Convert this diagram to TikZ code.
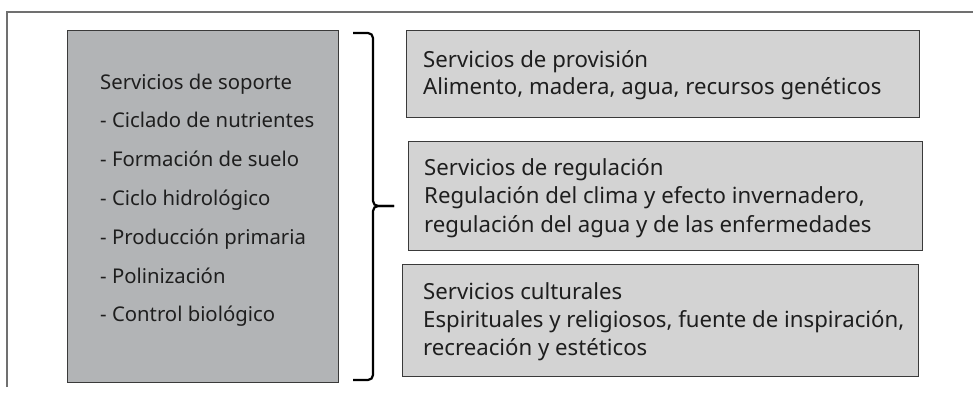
\documentclass[tikz,border=0pt]{standalone}
\usepackage{fontspec}
\setmainfont{Noto Sans}
\usetikzlibrary{positioning,calc}

\definecolor{marcogris}{HTML}{707070}
\definecolor{bordecaja}{HTML}{3A3A3A}
\definecolor{fondosoporte}{HTML}{B2B4B6}
\definecolor{fondoservicio}{HTML}{D3D3D3}
\definecolor{tinta}{HTML}{1E1E1E}

\newcommand{\letracaja}{\fontsize{22.2}{28}\selectfont}
\newcommand{\letrasoporte}{\fontsize{20.3}{24}\selectfont}

\begin{document}
\begin{tikzpicture}[x=1pt,y=-1pt,
		soporte/.style={draw=bordecaja, fill=fondosoporte, line width=1.2pt,
			anchor=north west, inner sep=0pt},
		servicio/.style={draw=bordecaja, fill=fondoservicio, line width=1.2pt,
			anchor=north west, inner sep=0pt},
		linea/.style={anchor=base west, inner sep=0pt, text=tinta, font=\letracaja},
		item/.style={linea, font=\letrasoporte},
		llave/.style={line width=2.2pt, rounded corners=5pt},
		marco/.style={draw=marcogris, line width=1.3pt}]
		\useasboundingbox (0,0) rectangle (974,396);
		% marco exterior
		\draw[marco] (7,387) |- (973,12);
		% servicios de soporte
		\node[soporte, minimum width=271pt, minimum height=352pt] (sop) at (67,30) {};
		\node[item] (sop0) at ($(sop.north west)+(33,59)$) {Servicios de soporte};
		\foreach \t [count=\i] in {Ciclado de nutrientes, Formación de suelo,
			Ciclo hidrológico, Producción primaria, Polinización, Control biológico}
			\node[item] (sop\i) at ($(sop0.base west)+(0,38.8*\i)$) {- \t};
		% llave
		\coordinate (brtop) at (353,33);
		\coordinate (brbot) at (353,380);
		\coordinate (brmid) at (373,206);
		\coordinate (brtip) at (394,206);
		\draw[llave] (brtop) -| (brmid) -- (brtip);
		\draw[llave] (brbot) -| (brmid) -- (brtip);
		% servicios de provision
		\node[servicio, minimum width=513pt, minimum height=87pt] (prov) at (406,30) {};
		\node[linea] (prov0) at ($(prov.north west)+(17,37)$) {Servicios de provisión};
		\node[linea] (prov1) at ($(prov0.base west)+(0,27)$) {Alimento, madera, agua, recursos genéticos};
		% servicios de regulacion
		\node[servicio, minimum width=514pt, minimum height=109pt] (reg) at (408,141) {};
		\node[linea] (reg0) at ($(reg.north west)+(16,34)$) {Servicios de regulación};
		\node[linea] (reg1) at ($(reg0.base west)+(0,28.5)$) {Regulación del clima y efecto invernadero,};
		\node[linea] (reg2) at ($(reg1.base west)+(0,28.5)$) {regulación del agua y de las enfermedades};
		% servicios culturales
		\node[servicio, minimum width=516pt, minimum height=112pt] (cult) at (402,264) {};
		\node[linea] (cult0) at ($(cult.north west)+(21,35)$) {Servicios culturales};
		\node[linea] (cult1) at ($(cult0.base west)+(0,28)$) {Espirituales y religiosos, fuente de inspiración,};
		\node[linea] (cult2) at ($(cult1.base west)+(0,28)$) {recreación y estéticos};
	\end{tikzpicture}
\end{document}
